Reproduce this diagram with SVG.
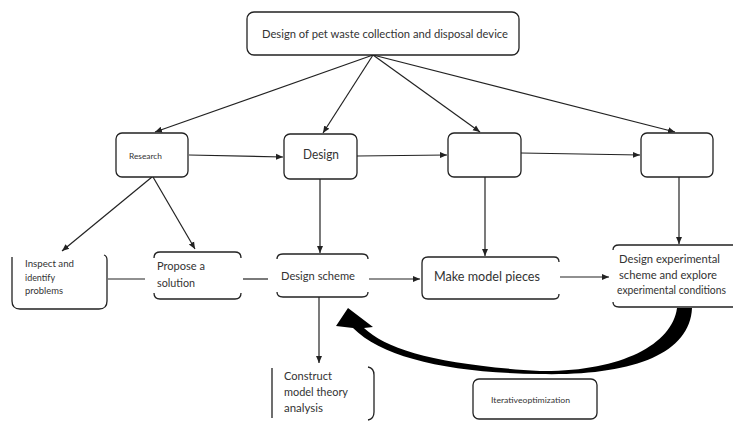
<svg xmlns="http://www.w3.org/2000/svg" width="733" height="422" viewBox="0 0 733 422">
<style>
.b{fill:#fff;stroke:#222;stroke-width:1.3}
.o{fill:none;stroke:#222;stroke-width:1.3}
.c{fill:none;stroke:#222;stroke-width:1.2}
.t{font-family:Lato,"Open Sans","Liberation Sans",sans-serif;fill:#333}
</style>
<defs>
<marker id="ah" markerUnits="userSpaceOnUse" markerWidth="8" markerHeight="8" refX="7" refY="4" orient="auto">
<path d="M0,1 L7,4 L0,7 Z" fill="#222"/>
</marker>
</defs>
<rect width="733" height="422" fill="#fff"/>
<g id="connectors">
<path class="c" d="M373,55 L155,132" marker-end="url(#ah)"/>
<path class="c" d="M373,55 L323,133" marker-end="url(#ah)"/>
<path class="c" d="M373,55 L480,132" marker-end="url(#ah)"/>
<path class="c" d="M373,55 L675,132" marker-end="url(#ah)"/>
<path class="c" d="M189,155 L283,157" marker-end="url(#ah)"/>
<path class="c" d="M357,156 L447,155" marker-end="url(#ah)"/>
<path class="c" d="M521,153 L640,155" marker-end="url(#ah)"/>
<path class="c" d="M152,177 L62,251" marker-end="url(#ah)"/>
<path class="c" d="M153,177 L195,249" marker-end="url(#ah)"/>
<path class="c" d="M108,279 L145,279"/>
<path class="c" d="M243,279 L268,279"/>
<path class="c" d="M320,179 L320,253" marker-end="url(#ah)"/>
<path class="c" d="M369,279 L420,279" marker-end="url(#ah)"/>
<path class="c" d="M485,177 L485,256" marker-end="url(#ah)"/>
<path class="c" d="M679,177 L679,244" marker-end="url(#ah)"/>
<path class="c" d="M560,277 L609,277" marker-end="url(#ah)"/>
<path class="c" d="M319,297 L319,363" marker-end="url(#ah)"/>
<path id="loop" fill="#000" d="M348,308 L373,327 L364,328 C387,350 440,365 540,371 C620,372 672,345 677,308 L692,308 C690,355 630,376 540,374 C450,373 383,358 353,328 L336,326 Z"/>
</g>
<g id="n-title">
<rect class="b" x="247" y="12" width="272" height="43" rx="7"/>
<text class="t" x="262" y="38" font-size="11.5" textLength="246" lengthAdjust="spacingAndGlyphs">Design of pet waste collection and disposal device</text>
</g>
<g id="n-research">
<rect class="b" x="116" y="133" width="72" height="44" rx="6"/>
<text class="t" x="129" y="159" font-size="8" textLength="33" lengthAdjust="spacingAndGlyphs">Research</text>
</g>
<g id="n-design">
<rect class="b" x="284" y="134" width="73" height="45" rx="6"/>
<text class="t" x="303" y="159" font-size="14" textLength="36" lengthAdjust="spacingAndGlyphs">Design</text>
</g>
<g id="n-box3">
<rect class="b" x="448" y="133" width="73" height="44" rx="6"/>
</g>
<g id="n-box4">
<rect class="b" x="641" y="133" width="72" height="44" rx="6"/>
</g>
<g id="n-inspect">
<path class="o" d="M12,257 V301 Q12,309 20,309 H99 Q107,309 107,301 V260 Q107,256 104,255"/>
<text class="t" font-size="10"><tspan x="25" y="266.5" textLength="49" lengthAdjust="spacingAndGlyphs">Inspect and</tspan><tspan x="25" y="280.5" textLength="30" lengthAdjust="spacingAndGlyphs">identify</tspan><tspan x="25" y="294" textLength="38" lengthAdjust="spacingAndGlyphs">problems</tspan></text>
</g>
<g id="n-propose">
<path class="o" d="M154,258 Q154,252 160,252 H235 Q241,252 241,258 M154,293 Q154,299 160,299 H235 Q241,299 241,293"/>
<text class="t" font-size="12"><tspan x="157" y="269.5" textLength="48" lengthAdjust="spacingAndGlyphs">Propose a</tspan><tspan x="157" y="286.5" textLength="38" lengthAdjust="spacingAndGlyphs">solution</tspan></text>
</g>
<g id="n-scheme">
<path class="o" d="M277,259 Q277,254 283,254 H362 Q368,254 368,259 M277,292 Q277,297 283,297 H362 Q368,297 368,292"/>
<text class="t" x="281" y="280" font-size="12" textLength="74" lengthAdjust="spacingAndGlyphs">Design scheme</text>
</g>
<g id="n-make">
<path class="o" d="M559,262 Q559,257 554,257 H428 Q422,257 422,263 V293 Q422,299 428,299 H554 Q559,299 559,294"/>
<text class="t" x="434" y="281" font-size="14" textLength="106" lengthAdjust="spacingAndGlyphs">Make model pieces</text>
</g>
<g id="n-experiment">
<path class="o" d="M613,250 Q613,245 619,245 H733 M613,302 Q613,307 619,307 H733"/>
<text class="t" font-size="12" x="619" y="263" textLength="101" lengthAdjust="spacingAndGlyphs">Design experimental</text>
<text class="t" font-size="12" x="619" y="278.5" textLength="98" lengthAdjust="spacingAndGlyphs">scheme and explore</text>
<text class="t" font-size="10.5" x="617" y="294" textLength="109" lengthAdjust="spacingAndGlyphs">experimental conditions</text>
</g>
<g id="n-construct">
<path class="o" d="M272,368 V418 M368,367 Q374,368 374,375 V412 Q374,419 368,420"/>
<text class="t" font-size="12"><tspan x="284" y="380" textLength="48" lengthAdjust="spacingAndGlyphs">Construct</tspan><tspan x="284" y="396" textLength="64" lengthAdjust="spacingAndGlyphs">model theory</tspan><tspan x="284" y="411.5" textLength="39" lengthAdjust="spacingAndGlyphs">analysis</tspan></text>
</g>
<g id="n-iterative">
<rect class="b" x="473" y="379" width="124" height="40" rx="6"/>
<text class="t" x="491" y="403" font-size="8" textLength="79" lengthAdjust="spacingAndGlyphs">Iterativeoptimization</text>
</g>
</svg>
